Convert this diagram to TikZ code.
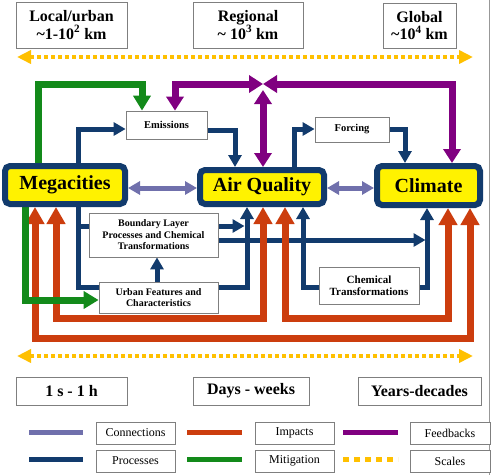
\documentclass[tikz,border=0pt]{standalone}
\usepackage{fontspec}
\setmainfont{Liberation Serif}
\usetikzlibrary{arrows.meta}
\definecolor{navyc}{HTML}{123B6D}
\definecolor{connc}{HTML}{7070AC}
\definecolor{impc}{HTML}{CC3D0E}
\definecolor{fbc}{HTML}{800080}
\definecolor{mitc}{HTML}{138A1A}
\definecolor{scalec}{HTML}{FFC000}
\definecolor{boxgray}{HTML}{7F7F7F}
\begin{document}
\begin{tikzpicture}[x=1pt,y=-1pt,line join=miter,
  scalebox/.style={draw=boxgray, line width=0.9pt, fill=white, inner sep=0pt, align=center, font=\bfseries\fontsize{16}{17.5}\selectfont},
  mainbox/.style={draw=navyc, line width=6pt, fill=yellow, rounded corners=5pt, inner sep=0pt, font=\bfseries\fontsize{20}{22}\selectfont},
  procbox/.style={draw=boxgray, line width=0.8pt, fill=white, inner sep=0pt, align=center, font=\bfseries\fontsize{10.5}{11.5}\selectfont},
  legbox/.style={draw=boxgray, line width=0.8pt, fill=white, inner sep=0pt, font=\fontsize{12}{13}\selectfont},
  conn/.style={draw=connc, line width=5pt, >={Triangle[width=13pt,length=12pt]}},
  proc/.style={draw=navyc, line width=5pt, >={Triangle[width=13pt,length=12pt]}},
  imp/.style={draw=impc, line width=7pt, >={Triangle[width=18pt,length=17pt]}},
  fb/.style={draw=fbc, line width=7pt, >={Triangle[width=17pt,length=14pt]}},
  mit/.style={draw=mitc, line width=7pt, >={Triangle[width=17pt,length=15pt]}},
  scl/.style={draw=scalec, line width=4pt, dash pattern=on 3.5pt off 3.5pt, >={Triangle[width=13pt,length=14pt]}},
]
\useasboundingbox (0,0) rectangle (492,475);
\fill[white] (0,0) rectangle (492,475);
\draw[boxgray!80, line width=0.8pt] (489.5,0) -- (489.5,475);

% scale boxes
\node[scalebox, minimum width=111pt, minimum height=46pt] (local) at (71.5,25) {Local/urban\\\textasciitilde1-10\textsuperscript{2} km};
\node[scalebox, minimum width=110pt, minimum height=46pt] (regional) at (248,25) {Regional\\\textasciitilde{} 10\textsuperscript{3} km};
\node[scalebox, minimum width=73pt, minimum height=45pt] (global) at (419.5,25.5) {Global\\\textasciitilde10\textsuperscript{4} km};

\coordinate (s1l) at (17,57); \coordinate (s1r) at (473,57);
\coordinate (s2l) at (17,356); \coordinate (s2r) at (473,356);
\draw[scl,<->] (s1l) -- (s1r);
\draw[scl,<->] (s2l) -- (s2r);

% time boxes
\node[scalebox, minimum width=111pt, minimum height=28pt] (t1) at (71.5,391) {1 s - 1 h};
\node[scalebox, minimum width=116pt, minimum height=28pt] (t2) at (251,391) {Days - weeks};
\node[scalebox, minimum width=123pt, minimum height=28pt] (t3) at (419.5,391) {Years-decades};

% main boxes (positions only, drawn later)
\path (65,185) coordinate (megac) (262,187) coordinate (aqc) (428.5,185.5) coordinate (climc);
\node[mainbox, minimum width=120pt, minimum height=38pt, draw=none, fill=none, outer sep=3pt] (mega) at (megac) {\phantom{Megacities}};
\node[mainbox, minimum width=124pt, minimum height=34pt, draw=none, fill=none, outer sep=3pt] (aq) at (aqc) {\phantom{Air Quality}};
\node[mainbox, minimum width=103pt, minimum height=39pt, draw=none, fill=none, outer sep=3pt] (clim) at (climc) {\phantom{Climate}};
\node[procbox, minimum width=81pt, minimum height=28pt, draw=none, fill=none] (emis) at (166.5,125) {};
\node[procbox, minimum width=74pt, minimum height=25pt, draw=none, fill=none] (forc) at (352,129.5) {};
\node[procbox, minimum width=129pt, minimum height=44pt, draw=none, fill=none] (blp) at (153.5,235) {};
\node[procbox, minimum width=119pt, minimum height=31pt, draw=none, fill=none] (urb) at (158.5,297.5) {};
\node[procbox, minimum width=100pt, minimum height=37pt, draw=none, fill=none] (chem) at (369,285.5) {};

% connections
\draw[conn,<->] (mega.east |- 0,188) -- (aq.west |- 0,188);
\draw[conn,<->] (aq.east |- 0,188) -- (clim.west |- 0,188);

% processes
\draw[proc,->] (78,0 |- megac) |- (emis.west |- 0,129);
\draw[proc,->] (emis.east |- 0,130) -| (235,0 |- aq.north);
\draw[proc,->] (294,0 |- aqc) |- (forc.west |- 0,129);
\draw[proc,->] (forc.east |- 0,129) -| (405,0 |- clim.north);
\draw[proc,->] (78,0 |- megac) |- (247,287) -- (247,0 |- aq.south);
\coordinate (br) at (78,226);
\draw[proc,->] (br) -- (244.5,226);
\draw[proc,->] (blp.center |- 0,240) -- (425.5,240);
\draw[proc,->] (157,0 |- urb.center) -- (157,0 |- blp.south);
\draw[proc,<->] (303,0 |- aq.south) |- (427,287) -- (427,0 |- clim.south);

% impacts
\draw[imp,<->] (56,0 |- mega.south) |- (263,318) -- (263,0 |- aq.south);
\draw[imp,<->] (285,0 |- aq.south) |- (448,318) -- (448,0 |- clim.south);
\draw[imp,<->] (35,0 |- mega.south) |- (470,338) -- (470,0 |- clim.south);

% mitigation
\draw[mit,->] (38,0 |- megac) |- (142,84) -- (142,0 |- emis.north);
\draw[mit,->] (25,0 |- megac) |- (urb.west |- 0,300);

% feedbacks
\coordinate (j) at (263,84);
\draw[fb,<->] (175,0 |- emis.north) |- (j);
\draw[fb,<->] (452,0 |- clim.north) |- (j);
\draw[fb,<->] (263,0 |- aq.north) -- (263,90);

% boxes on top
\node[mainbox, minimum width=120pt, minimum height=38pt] at (megac) {Megacities};
\node[mainbox, minimum width=124pt, minimum height=34pt] at (aqc) {Air Quality};
\node[mainbox, minimum width=103pt, minimum height=39pt] at (climc) {Climate};
\node[procbox, minimum width=81pt, minimum height=28pt] at (emis.center) {Emissions};
\node[procbox, minimum width=74pt, minimum height=25pt] at (forc.center) {Forcing};
\node[procbox, minimum width=129pt, minimum height=44pt, font=\bfseries\fontsize{10}{11.5}\selectfont] at (blp.center) {Boundary Layer\\Processes and Chemical\\Transformations};
\node[procbox, minimum width=119pt, minimum height=31pt, font=\bfseries\fontsize{10}{11.5}\selectfont] at (urb.center) {Urban Features and\\Characteristics};
\node[procbox, minimum width=100pt, minimum height=37pt, font=\bfseries\fontsize{11}{12.5}\selectfont] at (chem.center) {Chemical\\Transformations};

% legend
\draw[conn] (29,432) -- (83,432);
\draw[proc] (29,459) -- (83,459);
\draw[imp, line width=5pt] (187,432) -- (242,432);
\draw[mit, line width=5pt] (187,459) -- (242,459);
\draw[fb, line width=5pt] (343,432) -- (398,432);
\draw[scl, line width=5pt, dash pattern=on 6pt off 5pt] (343,459) -- (398,459);
\node[legbox, minimum width=79pt, minimum height=22pt] (l1) at (135.5,433) {Connections};
\node[legbox, minimum width=79pt, minimum height=22pt] (l2) at (135.5,461) {Processes};
\node[legbox, minimum width=79pt, minimum height=22pt] (l3) at (294.5,433) {Impacts};
\node[legbox, minimum width=79pt, minimum height=22pt] (l4) at (294.5,461) {Mitigation};
\node[legbox, minimum width=80pt, minimum height=22pt] (l5) at (450,433) {Feedbacks};
\node[legbox, minimum width=80pt, minimum height=22pt] (l6) at (450,461) {Scales};
\end{tikzpicture}
\end{document}
